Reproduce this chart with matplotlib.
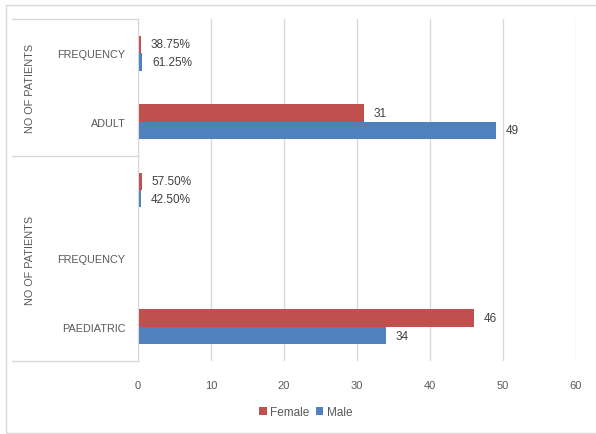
import matplotlib
matplotlib.use("Agg")
import matplotlib.pyplot as plt
from matplotlib.lines import Line2D
from matplotlib.patches import Rectangle
import numpy as np

plt.rcParams["font.family"] = ["Liberation Sans", "DejaVu Sans"]

# categories from bottom to top
categories = ["PAEDIATRIC", "FREQUENCY", "", "ADULT", "FREQUENCY"]
groups = ["NO OF PATIENTS", "NO OF PATIENTS"]
female = [46, np.nan, 0.575, 31, 0.3875]
male = [34, np.nan, 0.425, 49, 0.6125]
is_share = [False, False, True, False, True]
xticks = [0, 10, 20, 30, 40, 50, 60]

red = "#C0504D"
blue = "#4F81BD"
txt = "#595959"
line = "#D9D9D9"

W, H = 596, 435
fig = plt.figure(figsize=(W / 100, H / 100), dpi=100, facecolor="white")
x0, x1, y0, y1 = 138, 576, 20, 362
ax = fig.add_axes([x0 / W, 1 - y1 / H, (x1 - x0) / W, (y1 - y0) / H])

y = np.arange(len(categories))
h = 0.255
ax.barh(y + h / 2, female, height=h, color=red, label="Female", zorder=3)
ax.barh(y - h / 2, male, height=h, color=blue, label="Male", zorder=3)

for yy, f, m, share in zip(y, female, male, is_share):
    for v, off in ((f, h / 2), (m, -h / 2)):
        if np.isnan(v):
            continue
        s = f"{v:.2%}" if share else f"{v:g}"
        ax.annotate(s, (v, yy + off), xytext=(7, 0), textcoords="offset points",
                    va="center", ha="left", fontsize=8.5, color="#404040")

ax.set_xlim(0, 60)
ax.set_ylim(-0.5, len(categories) - 0.5)
ax.set_xticks(xticks)
ax.set_yticks(y, categories)
ax.tick_params(axis="x", length=0, pad=14, labelsize=8, labelcolor=txt)
ax.tick_params(axis="y", length=0, pad=9, labelsize=7.8, labelcolor=txt)
ax.grid(axis="x", color=line, linewidth=1, zorder=0)
for side in ("top", "right", "bottom"):
    ax.spines[side].set_visible(False)
ax.spines["left"].set_color(line)
ax.spines["left"].set_zorder(4)

# group table lines on the left
for yp in (y0, 157, y1):
    fig.add_artist(Line2D([12 / W, x0 / W], [1 - yp / H, 1 - yp / H],
                          color=line, linewidth=1))
for yc, g in zip((88, 260), groups):
    fig.text(30 / W, 1 - yc / H, g, rotation=90, ha="center", va="center",
             fontsize=7.8, color=txt)

# outer border (right edge runs off the canvas)
fig.add_artist(Rectangle((5.5 / W, 1.5 / H), 600 / W, 428 / H, fill=False,
                         edgecolor=line, linewidth=1))

fig.legend(loc="center", bbox_to_anchor=(306 / W, 1 - 413 / H), ncol=2,
           frameon=False, fontsize=8.5, labelcolor=txt, handlelength=0.6,
           handleheight=0.6, handletextpad=0.3, columnspacing=0.6)

fig.savefig("out.png", dpi=100)
